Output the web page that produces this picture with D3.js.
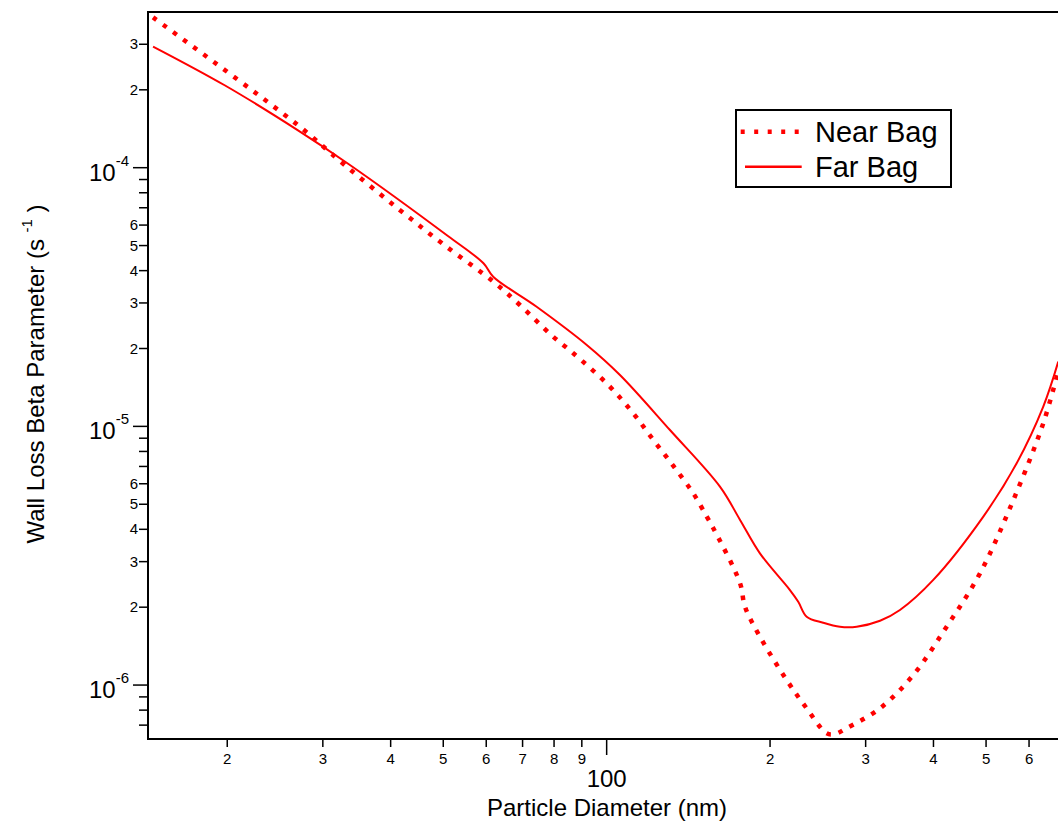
<!DOCTYPE html>
<html>
<head>
<meta charset="utf-8">
<script src="https://cdn.jsdelivr.net/npm/d3@7"></script>
<style>
  body { margin: 0; background: #fff; }
  svg { display: block; font-family: "Liberation Sans", Arial, sans-serif; }
</style>
</head>
<body>
<div id="chart"></div>
<script>
// Near Bag (dotted) - diameter in nm, beta in s^-1
const nearDiameter = [14.6, 27.0, 32.7, 41.3, 50.3, 61.8, 69.2, 79.7, 86.8, 100.7, 111.9, 121.9, 132.7, 144.4, 152.9, 157.2, 176.1, 179.8, 191.6, 214.6, 233.6, 254.3, 263.4, 276.8, 318.9, 367.2, 423.0, 487.3, 561.3, 637.3, 678.4];
const nearBeta = [3.81e-4, 1.459e-4, 1.036e-4, 6.94e-5, 5.01e-5, 3.63e-5, 2.946e-5, 2.222e-5, 1.917e-5, 1.445e-5, 1.124e-5, 8.86e-6, 7.03e-6, 5.51e-6, 4.48e-6, 4.04e-6, 2.475e-6, 2.01e-6, 1.538e-6, 1.046e-6, 8.13e-7, 6.51e-7, 6.47e-7, 6.81e-7, 8.13e-7, 1.094e-6, 1.681e-6, 2.704e-6, 5.19e-6, 1.028e-5, 1.623e-5];

// Far Bag (solid)
const farDiameter = [14.6, 19.78, 27.0, 33.4, 51.0, 59.3, 61.8, 74.3, 91.9, 105.8, 130.8, 161.7, 176.1, 191.6, 217.6, 225.4, 233.6, 250.6, 269.0, 288.8, 318.9, 347.0, 399.7, 494.2, 569.3, 637.3, 679.2];
const farBeta = [2.94e-4, 2.083e-4, 1.395e-4, 1.036e-4, 5.445e-5, 4.27e-5, 3.79e-5, 2.90e-5, 2.064e-5, 1.580e-5, 9.68e-6, 5.85e-6, 4.35e-6, 3.23e-6, 2.33e-6, 2.10e-6, 1.838e-6, 1.742e-6, 1.681e-6, 1.681e-6, 1.773e-6, 1.951e-6, 2.55e-6, 4.48e-6, 7.20e-6, 1.192e-5, 1.779e-5];

// tick setup
const xDecades = [10, 100];
const yExponents = [-7, -6, -5, -4];
const mantissas = [1, 2, 3, 4, 5, 6, 7, 8, 9];
const yLabeledMantissas = [2, 3, 4, 5, 6];

const width = 1058, height = 822;
const plotLeft = 148, plotTop = 12, plotRight = 1058, plotBottom = 739;

const svg = d3.select('#chart').append('svg')
    .attr('width', width)
    .attr('height', height);

const x = d3.scaleLog().domain([14.29, 678.4]).range([plotLeft, plotRight]);
const y = d3.scaleLog().domain([6.187e-7, 3.998e-4]).range([plotBottom, plotTop]);

svg.append('defs').append('clipPath').attr('id', 'plot')
    .append('rect')
    .attr('x', plotLeft).attr('y', plotTop)
    .attr('width', plotRight - plotLeft).attr('height', plotBottom - plotTop);

// curves
const line = d3.line()
    .x(d => x(d[0]))
    .y(d => y(d[1]))
    .curve(d3.curveCatmullRom.alpha(0.5));

const plot = svg.append('g').attr('clip-path', 'url(#plot)');

plot.append('path')
    .datum(farDiameter.map((d, i) => [d, farBeta[i]]))
    .attr('d', line)
    .attr('fill', 'none')
    .attr('stroke', '#ff0000')
    .attr('stroke-width', 2)
    .attr('stroke-linejoin', 'round');

plot.append('path')
    .datum(nearDiameter.map((d, i) => [d, nearBeta[i]]))
    .attr('d', line)
    .attr('fill', 'none')
    .attr('stroke', '#ff0000')
    .attr('stroke-width', 4.5)
    .attr('stroke-dasharray', '4.5 8');

// frame (right side off screen)
svg.append('path')
    .attr('d', `M${plotRight + 3},${plotTop}H${plotLeft}V${plotBottom}H${plotRight + 3}`)
    .attr('fill', 'none')
    .attr('stroke', '#000')
    .attr('stroke-width', 2);

// x ticks
const xTicks = [];
xDecades.forEach(dec => mantissas.forEach(m => {
    const v = m * dec;
    if (v >= x.domain()[0] && v <= x.domain()[1]) xTicks.push({ v, m });
}));

const xAxis = svg.append('g');
xTicks.forEach(t => {
    const px = x(t.v);
    xAxis.append('line')
        .attr('x1', px).attr('x2', px)
        .attr('y1', plotBottom).attr('y2', plotBottom + (t.m === 1 ? 16 : 8))
        .attr('stroke', '#000').attr('stroke-width', 1.5);
    if (t.m === 1) {
        xAxis.append('text')
            .attr('x', px).attr('y', 787)
            .attr('text-anchor', 'middle')
            .attr('font-size', 24)
            .text(t.v);
    } else {
        xAxis.append('text')
            .attr('x', px).attr('y', 764)
            .attr('text-anchor', 'middle')
            .attr('font-size', 15)
            .text(t.m);
    }
});

// y ticks
const yTicks = [];
yExponents.forEach(e => mantissas.forEach(m => {
    const v = m * Math.pow(10, e);
    if (v >= y.domain()[0] && v < y.domain()[1] * 0.999) yTicks.push({ v, m, e });
}));

const yAxis = svg.append('g');
yTicks.forEach(t => {
    const py = y(t.v);
    yAxis.append('line')
        .attr('x1', plotLeft - (t.m === 1 ? 15 : 9)).attr('x2', plotLeft)
        .attr('y1', py).attr('y2', py)
        .attr('stroke', '#000').attr('stroke-width', 1.5);
    if (t.m === 1) {
        const txt = yAxis.append('text')
            .attr('x', 129).attr('y', py + 13)
            .attr('text-anchor', 'end')
            .attr('font-size', 24);
        txt.append('tspan').text('10');
        txt.append('tspan')
            .attr('font-size', 15)
            .attr('dy', -15)
            .text(t.e);
    } else if (yLabeledMantissas.includes(t.m)) {
        yAxis.append('text')
            .attr('x', 138).attr('y', py + 5)
            .attr('text-anchor', 'end')
            .attr('font-size', 15)
            .text(t.m);
    }
});

// axis titles
svg.append('text')
    .attr('x', 607).attr('y', 816)
    .attr('text-anchor', 'middle')
    .attr('font-size', 24)
    .text('Particle Diameter (nm)');

const yTitle = svg.append('text')
    .attr('transform', 'translate(44,374) rotate(-90)')
    .attr('text-anchor', 'middle')
    .attr('font-size', 24);
yTitle.append('tspan').text('Wall Loss Beta Parameter (s ');
yTitle.append('tspan').attr('font-size', 15).attr('dy', -12).text('-1');
yTitle.append('tspan').attr('dy', 12).text(' )');

// legend
const legend = svg.append('g');
legend.append('rect')
    .attr('x', 736).attr('y', 110)
    .attr('width', 215).attr('height', 77)
    .attr('fill', '#fff')
    .attr('stroke', '#000')
    .attr('stroke-width', 2);

legend.append('line')
    .attr('x1', 740.7).attr('x2', 799)
    .attr('y1', 131.7).attr('y2', 131.7)
    .attr('stroke', '#ff0000')
    .attr('stroke-width', 4.5)
    .attr('stroke-dasharray', '4 9.5');

legend.append('line')
    .attr('x1', 745).attr('x2', 801.7)
    .attr('y1', 166.7).attr('y2', 166.7)
    .attr('stroke', '#ff0000')
    .attr('stroke-width', 2.5);

legend.append('text')
    .attr('x', 815).attr('y', 142)
    .attr('font-size', 29)
    .text('Near Bag');

legend.append('text')
    .attr('x', 815).attr('y', 177)
    .attr('font-size', 29)
    .text('Far Bag');
</script>
</body>
</html>
